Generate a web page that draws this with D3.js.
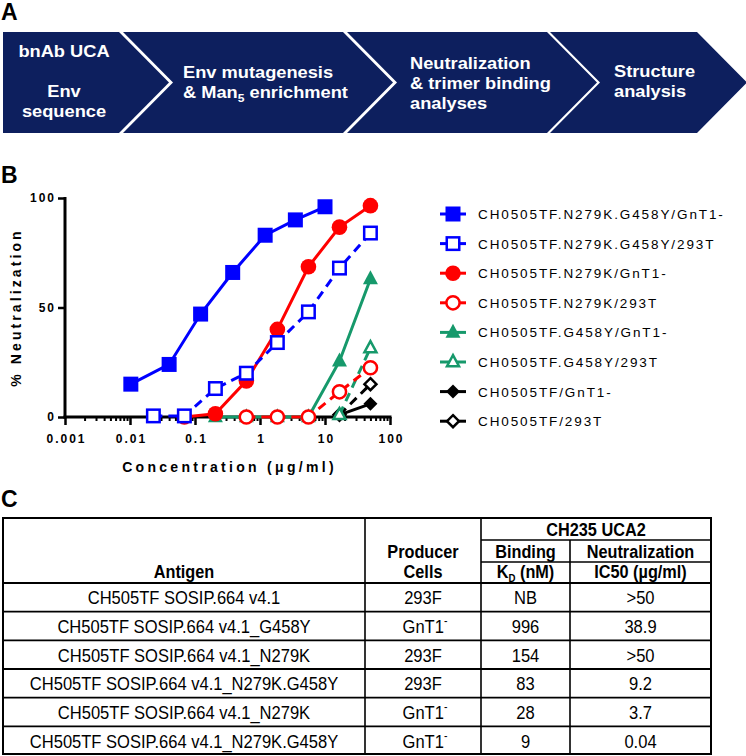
<!DOCTYPE html>
<html><head><meta charset="utf-8">
<script src="https://cdn.jsdelivr.net/npm/d3@7"></script>
<style>body{margin:0;background:#fff;} svg{display:block;font-family:"Liberation Sans",Arial,sans-serif;}</style>
</head><body>
<svg id="c" width="746" height="756"></svg>
<script>
// ---------------- DATA ----------------
// Panel A steps (lines of text)
const step1 = ["bnAb UCA", "", "Env", "sequence"];
const step2 = ["Env mutagenesis", "& Man|5| enrichment"];
const step3 = ["Neutralization", "& trimer binding", "analyses"];
const step4 = ["Structure", "analysis"];

// Panel B
const xTickValues = [0.001, 0.01, 0.1, 1, 10, 100];
const xTickLabels = ["0.001", "0.01", "0.1", "1", "10", "100"];
const yTickValues = [0, 50, 100];

const seriesNames = [
  "CH0505TF.N279K.G458Y/GnT1-",
  "CH0505TF.N279K.G458Y/293T",
  "CH0505TF.N279K/GnT1-",
  "CH0505TF.N279K/293T",
  "CH0505TF.G458Y/GnT1-",
  "CH0505TF.G458Y/293T",
  "CH0505TF/GnT1-",
  "CH0505TF/293T"
];
const s1x = [0.0103, 0.04, 0.122, 0.38, 1.2, 3.5, 10];
const s1y = [15, 24, 47, 66, 83, 90, 96];
const s2x = [0.0229, 0.0686, 0.206, 0.617, 1.85, 5.56, 16.7, 50];
const s2y = [0.5, 0.5, 13, 20, 34, 48, 68, 84];
const s3x = [0.0686, 0.206, 0.617, 1.85, 5.56, 16.7, 50];
const s3y = [0, 1.5, 16.5, 40, 68.6, 86.7, 96.5];
const s4x = [0.617, 1.85, 5.56, 16.7, 50];
const s4y = [0, 0, 0, 11.5, 22.5];
const s5x = [0.206, 0.617, 1.85, 5.56, 16.7, 50];
const s5y = [0, 0, 0, 0, 25.5, 63];
const s6x = [16.7, 50];
const s6y = [1, 31.5];
const s7x = [16.7, 50];
const s7y = [1, 6];
const s8x = [16.7, 50];
const s8y = [1, 15];

// Panel C
const tableAntigens = [
  "CH505TF SOSIP.664 v4.1",
  "CH505TF SOSIP.664 v4.1_G458Y",
  "CH505TF SOSIP.664 v4.1_N279K",
  "CH505TF SOSIP.664 v4.1_N279K.G458Y",
  "CH505TF SOSIP.664 v4.1_N279K",
  "CH505TF SOSIP.664 v4.1_N279K.G458Y"
];
const tableProducers = ["293F", "GnT1-", "293F", "293F", "GnT1-", "GnT1-"];
const tableKd = ["NB", "996", "154", "83", "28", "9"];
const tableIC50 = [">50", "38.9", ">50", "9.2", "3.7", "0.04"];

// ---------------- STYLE ----------------
const BLUE = "#0000ff", RED = "#ff0000", GREEN = "#16996b", BLACK = "#000000";
const NAVY = "#0d1f5e";
const seriesStyle = [
  {c: BLUE, shape: "square", filled: true, dash: false},
  {c: BLUE, shape: "square", filled: false, dash: true},
  {c: RED, shape: "circle", filled: true, dash: false},
  {c: RED, shape: "circle", filled: false, dash: true},
  {c: GREEN, shape: "triangle", filled: true, dash: false},
  {c: GREEN, shape: "triangle", filled: false, dash: true},
  {c: BLACK, shape: "diamond", filled: true, dash: false},
  {c: BLACK, shape: "diamond", filled: false, dash: true}
];
const seriesX = [s1x, s2x, s3x, s4x, s5x, s6x, s7x, s8x];
const seriesY = [s1y, s2y, s3y, s4y, s5y, s6y, s7y, s8y];

const svg = d3.select("#c");

// ---------------- PANEL A ----------------
svg.append("text").attr("x", 1).attr("y", 20).attr("font-size", 23).attr("font-weight", "bold").text("A");

const chevTop = 32, chevBot = 133, chevMid = (chevTop + chevBot) / 2, chevDepth = 50;
const chevLeft = [3, 123, 347, 550];
const chevRight = [119, 343, 547, 697];
const gA = svg.append("g");
chevLeft.forEach((l, i) => {
  const r = chevRight[i];
  const pts = [[l, chevTop], [r, chevTop], [r + chevDepth, chevMid], [r, chevBot], [l, chevBot]];
  if (i > 0) pts.push([l + chevDepth, chevMid]);
  gA.append("path").attr("d", d3.line()(pts) + "Z").attr("fill", NAVY);
});
const stepTexts = [step1, step2, step3, step4];
const stepX = [64, 183, 410, 614];
const stepAnchor = ["middle", "start", "start", "start"];
const stepY0 = [57, 78, 69, 77];
const stepLH = [20, 20, 20, 20];
const textScaleX = 1.1;
stepTexts.forEach((lines, i) => {
  lines.forEach((ln, j) => {
    if (!ln) return;
    const g = gA.append("g").attr("transform", `translate(${stepX[i]},${stepY0[i] + j * stepLH[i]}) scale(${textScaleX},1)`);
    const t = g.append("text").attr("fill", "#fff").attr("font-weight", "bold").attr("font-size", 16.6)
      .attr("text-anchor", stepAnchor[i]);
    const parts = ln.split("|");
    parts.forEach((p, k) => {
      const ts = t.append("tspan").text(p);
      if (k === 1) ts.attr("font-size", 11).attr("dy", 4);
      if (k === 2) ts.attr("dy", -4);
    });
  });
});

// ---------------- PANEL B ----------------
svg.append("text").attr("x", 1).attr("y", 183).attr("font-size", 23).attr("font-weight", "bold").text("B");

const x = d3.scaleLog().domain([0.001, 100]).range([65, 390]);
const y = d3.scaleLinear().domain([0, 100]).range([417, 198]);
const gB = svg.append("g");

// minor ticks
const minorVals = [];
for (let e = -3; e < 2; e++) for (let m = 2; m <= 9; m++) minorVals.push(m * Math.pow(10, e));
const xMinor = d3.axisBottom(x).tickValues(minorVals).tickSize(4).tickFormat("").tickSizeOuter(0);
gB.append("g").attr("transform", `translate(0,${y(0)})`).call(xMinor)
  .call(g => g.select(".domain").remove())
  .call(g => g.selectAll("line").attr("stroke-width", 2));

const xAxis = d3.axisBottom(x).tickValues(xTickValues).tickSize(8).tickPadding(9).tickSizeOuter(0)
  .tickFormat((d, i) => xTickLabels[i]);
gB.append("g").attr("transform", `translate(0,${y(0)})`).call(xAxis)
  .call(g => g.select(".domain").attr("stroke-width", 3).attr("d", `M${x(0.001) - 1.5},0H${x(100) + 1.5}`))
  .call(g => g.selectAll("line").attr("stroke-width", 2.5))
  .call(g => g.selectAll("text").attr("font-size", 12).attr("font-weight", "bold")
    .attr("font-family", "Liberation Sans, Arial, sans-serif").style("letter-spacing", "2px").attr("dx", 1));

const yAxis = d3.axisLeft(y).tickValues(yTickValues).tickSize(7).tickPadding(2).tickSizeOuter(0);
gB.append("g").attr("transform", `translate(${x(0.001)},0)`).call(yAxis)
  .call(g => g.select(".domain").attr("stroke-width", 3).attr("d", `M0,${y(0) + 1.5}V${y(100) - 1}`))
  .call(g => g.selectAll("line").attr("stroke-width", 2.5))
  .call(g => g.selectAll("text").attr("font-size", 12).attr("font-weight", "bold")
    .attr("font-family", "Liberation Sans, Arial, sans-serif").style("letter-spacing", "2px"));

// axis titles
gB.append("text").attr("transform", `translate(21,${(y(0) + y(100)) / 2}) rotate(-90)`)
  .attr("text-anchor", "middle").attr("font-size", 14).attr("font-weight", "bold")
  .style("letter-spacing", "3.1px").text("% Neutralization");
gB.append("text").attr("x", (x(0.001) + x(100)) / 2 + 2).attr("y", 472)
  .attr("text-anchor", "middle").attr("font-size", 14).attr("font-weight", "bold")
  .style("letter-spacing", "3.3px").text("Concentration (\u03bcg/ml)");

function drawMarker(g, cx, cy, st) {
  const sw = 2.5;
  let el;
  if (st.shape === "square") {
    const s = st.filled ? 15 : 12.5;
    el = g.append("rect").attr("x", cx - s / 2).attr("y", cy - s / 2).attr("width", s).attr("height", s);
  } else if (st.shape === "circle") {
    el = g.append("circle").attr("cx", cx).attr("cy", cy).attr("r", st.filled ? 7.8 : 6.6);
  } else if (st.shape === "triangle") {
    const w = st.filled ? 15 : 12, h = st.filled ? 14 : 11;
    el = g.append("path").attr("d", d3.line()([[cx, cy - h * 0.62], [cx + w / 2, cy + h * 0.38], [cx - w / 2, cy + h * 0.38]]) + "Z");
  } else {
    const r = st.filled ? 7 : 6;
    el = g.append("path").attr("d", d3.line()([[cx, cy - r], [cx + r, cy], [cx, cy + r], [cx - r, cy]]) + "Z");
  }
  if (st.filled) el.attr("fill", st.c).attr("stroke", "none");
  else el.attr("fill", "#fff").attr("stroke", st.c).attr("stroke-width", sw);
}

// draw series in reverse order so that the first series is on top
const lineGen = d3.line().x(d => x(d[0])).y(d => y(d[1]));
for (let i = seriesNames.length - 1; i >= 0; i--) {
  const st = seriesStyle[i];
  const pts = seriesX[i].map((v, k) => [v, seriesY[i][k]]);
  const g = gB.append("g");
  g.append("path").attr("d", lineGen(pts)).attr("fill", "none").attr("stroke", st.c)
    .attr("stroke-width", 3).attr("stroke-dasharray", st.dash ? "9,6" : null);
  pts.forEach(p => drawMarker(g, x(p[0]), y(p[1]), st));
}

// legend
const legX = 453, legY0 = 214, legDY = 29.6;
const gL = svg.append("g");
seriesNames.forEach((name, i) => {
  const st = seriesStyle[i];
  const yy = legY0 + i * legDY;
  gL.append("line").attr("x1", legX - 13).attr("x2", legX + 13).attr("y1", yy).attr("y2", yy)
    .attr("stroke", st.c).attr("stroke-width", 3);
  drawMarker(gL, legX, yy, st);
  gL.append("text").attr("x", 478).attr("y", yy + 5).attr("font-size", 13.5)
    .style("letter-spacing", "1.9px").attr("fill", "#000").text(name);
});

// ---------------- PANEL C ----------------
svg.append("text").attr("x", 1).attr("y", 507).attr("font-size", 23).attr("font-weight", "bold").text("C");

const tL = 3, tR = 711, tT = 518, tB = 755;
const colX = [tL, 365, 481, 570, tR];
const hdr1 = 540, hdr2 = 562, hdrB = 583;
const rowH = (tB - hdrB) / tableAntigens.length;
const gC = svg.append("g");
gC.append("rect").attr("x", tL).attr("y", tT).attr("width", tR - tL).attr("height", tB - tT - 1)
  .attr("fill", "none").attr("stroke", "#000").attr("stroke-width", 2);
[colX[1], colX[2]].forEach(cx => gC.append("line").attr("x1", cx).attr("x2", cx).attr("y1", tT).attr("y2", tB).attr("stroke", "#000").attr("stroke-width", 1.6));
gC.append("line").attr("x1", colX[3]).attr("x2", colX[3]).attr("y1", hdr1).attr("y2", tB).attr("stroke", "#000").attr("stroke-width", 1.6);
[hdr1, hdr2].forEach(yy => gC.append("line").attr("x1", colX[2]).attr("x2", tR).attr("y1", yy).attr("y2", yy).attr("stroke", "#000").attr("stroke-width", 1.6));
for (let r = 0; r < tableAntigens.length; r++) {
  const yy = hdrB + r * rowH;
  gC.append("line").attr("x1", tL).attr("x2", tR).attr("y1", yy).attr("y2", yy).attr("stroke", "#000").attr("stroke-width", 1.8);
}
const mid = (a, b) => (a + b) / 2;
const narrow = 0.88;
function hText(t, cx, by) {
  return gC.append("g").attr("transform", `translate(${cx},${by}) scale(${narrow},1)`)
    .append("text").attr("text-anchor", "middle")
    .attr("font-size", 18.5).attr("font-weight", "bold").text(t);
}
hText("Antigen", mid(colX[0], colX[1]), 578);
hText("Producer", mid(colX[1], colX[2]), 558);
hText("Cells", mid(colX[1], colX[2]), 578);
hText("CH235 UCA2", mid(colX[2], colX[4]), 536);
hText("Binding", mid(colX[2], colX[3]), 558);
hText("Neutralization", mid(colX[3], colX[4]), 558);
{
  const t = hText("", mid(colX[2], colX[3]), 578);
  t.append("tspan").text("K");
  t.append("tspan").text("D").attr("font-size", 11).attr("dy", 4);
  t.append("tspan").text(" (nM)").attr("dy", -4);
}
hText("IC50 (\u00b5g/ml)", mid(colX[3], colX[4]), 578);

function cText(t, cx, by) {
  return gC.append("g").attr("transform", `translate(${cx},${by}) scale(${narrow},1)`)
    .append("text").attr("text-anchor", "middle")
    .attr("font-size", 18.8).text(t);
}
tableAntigens.forEach((a, r) => {
  const by = hdrB + r * rowH + rowH / 2 + 7;
  cText(a, mid(colX[0], colX[1]), by);
  const p = tableProducers[r];
  if (p.endsWith("-")) {
    const t = cText("", mid(colX[1], colX[2]) + 2, by);
    t.append("tspan").text(p.slice(0, -1));
    t.append("tspan").text("-").attr("font-size", 12).attr("dy", -8);
  } else cText(p, mid(colX[1], colX[2]), by);
  cText(tableKd[r], mid(colX[2], colX[3]), by);
  cText(tableIC50[r], mid(colX[3], colX[4]), by);
});
</script>
</body></html>
